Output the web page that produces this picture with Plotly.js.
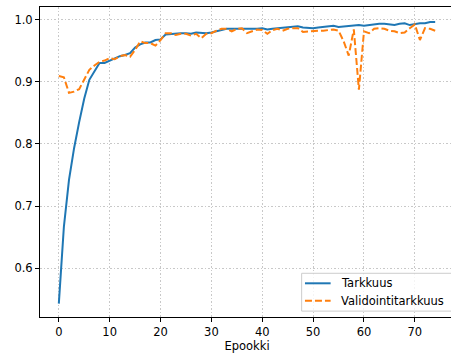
<!DOCTYPE html>
<html>
<head>
<meta charset="utf-8">
<script src="https://cdn.plot.ly/plotly-3.0.1.min.js"></script>
<style>html,body{margin:0;padding:0;overflow:hidden;background:#fff;}</style>
</head>
<body>
<div id="chart"></div>
<script>
var epochs = [];
for (var i = 0; i < 75; i++) epochs.push(i);

var tarkkuus = [
  0.543, 0.667, 0.742, 0.793, 0.835, 0.873, 0.903, 0.916, 0.930, 0.930,
  0.934, 0.937, 0.941, 0.943, 0.946, 0.955, 0.960, 0.963, 0.963, 0.967,
  0.968, 0.976, 0.977, 0.977, 0.978, 0.978, 0.977, 0.979, 0.978, 0.978,
  0.979, 0.981, 0.984, 0.985, 0.985, 0.985, 0.985, 0.984, 0.984, 0.985,
  0.986, 0.984, 0.985, 0.986, 0.986, 0.987, 0.989, 0.989, 0.987, 0.986,
  0.986, 0.987, 0.988, 0.989, 0.990, 0.988, 0.989, 0.990, 0.991, 0.991,
  0.990, 0.991, 0.993, 0.993, 0.993, 0.992, 0.991, 0.993, 0.994, 0.991,
  0.993, 0.994, 0.994, 0.996, 0.996
];

var validointitarkkuus = [
  0.909, 0.907, 0.882, 0.884, 0.888, 0.903, 0.919, 0.926, 0.932, 0.934,
  0.938, 0.936, 0.941, 0.943, 0.940, 0.951, 0.965, 0.962, 0.962, 0.958,
  0.967, 0.978, 0.978, 0.975, 0.977, 0.977, 0.974, 0.977, 0.970, 0.977,
  0.978, 0.982, 0.985, 0.985, 0.981, 0.985, 0.986, 0.978, 0.981, 0.984,
  0.983, 0.977, 0.983, 0.985, 0.982, 0.985, 0.986, 0.986, 0.980, 0.981,
  0.981, 0.982, 0.982, 0.983, 0.984, 0.982, 0.965, 0.942, 0.984, 0.887,
  0.981, 0.978, 0.985, 0.986, 0.985, 0.982, 0.981, 0.978, 0.979, 0.986,
  0.992, 0.967, 0.986, 0.985, 0.982
];

var seriesNames = ['Tarkkuus', 'Validointitarkkuus'];
var xTicks = [0, 10, 20, 30, 40, 50, 60, 70];
var yTicks = [0.6, 0.7, 0.8, 0.9, 1.0];
var yTickLabels = ['0.6', '0.7', '0.8', '0.9', '1.0'];

var font = {family: 'DejaVu Sans, sans-serif', size: 11.5, color: '#000'};
var colors = ['#1f77b4', '#ff7f0e'];
var dashes = ['solid', '7px,3px'];

var traces = [
  {x: epochs, y: tarkkuus, type: 'scatter', mode: 'lines', name: seriesNames[0],
   line: {color: colors[0], width: 2}},
  {x: epochs, y: validointitarkkuus, type: 'scatter', mode: 'lines', name: seriesNames[1],
   line: {color: colors[1], width: 2, dash: dashes[1]}}
];

var axisCommon = {
  showline: true, mirror: true, linecolor: '#000', linewidth: 1,
  ticks: 'outside', ticklen: 4, tickwidth: 1, tickcolor: '#000',
  showgrid: true, gridcolor: '#c8c8c8', gridwidth: 1, griddash: '1.5px,2px',
  zeroline: false, tickfont: font
};

// Legend drawn in paper coordinates (matplotlib-like compact box)
var legBox = {x0: 0.632, x1: 0.998, y0: 0.019, y1: 0.141};
var legRows = [0.1087, 0.0526];
var shapes = [{
  type: 'rect', xref: 'paper', yref: 'paper',
  x0: legBox.x0, x1: legBox.x1, y0: legBox.y0, y1: legBox.y1,
  fillcolor: 'rgba(255,255,255,0.8)', line: {color: '#cccccc', width: 1}
}];
var annotations = [];
for (var k = 0; k < seriesNames.length; k++) {
  shapes.push({
    type: 'line', xref: 'paper', yref: 'paper',
    x0: 0.640, x1: 0.702, y0: legRows[k], y1: legRows[k],
    line: {color: colors[k], width: 2, dash: dashes[k]}
  });
  annotations.push({
    xref: 'paper', yref: 'paper', x: 0.7225, y: legRows[k],
    xanchor: 'left', yanchor: 'middle', showarrow: false,
    text: seriesNames[k], font: font
  });
}

var layout = {
  width: 455, height: 356,
  margin: {l: 40, r: 1, t: 7, b: 39},
  paper_bgcolor: '#fff', plot_bgcolor: '#fff',
  font: font,
  showlegend: false,
  shapes: shapes,
  annotations: annotations,
  xaxis: Object.assign({}, axisCommon, {
    range: [-3.7, 77.7], tickvals: xTicks,
    title: {text: 'Epookki', font: font, standoff: 3}
  }),
  yaxis: Object.assign({}, axisCommon, {
    range: [0.5215, 1.0201], tickvals: yTicks, ticktext: yTickLabels
  })
};

Plotly.newPlot('chart', traces, layout, {displayModeBar: false, staticPlot: true});
</script>
</body>
</html>
